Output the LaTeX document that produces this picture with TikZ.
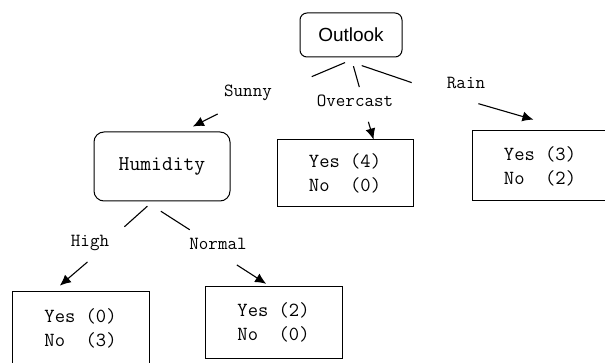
\documentclass[tikz,border=0pt]{standalone}
\usepackage{fontspec}
\newfontfamily\outlookfont{Liberation Sans}
\usetikzlibrary{arrows.meta}

\tikzstyle{decision}=[rectangle,
    rounded corners=8pt,
    line width=1pt,
    draw=black,
    font=\ttfamily\fontsize{21}{25}\selectfont]
\tikzstyle{leaf}=[rectangle,
    line width=1pt,
    draw=black,
    minimum width=136pt,
    align=left,
    font=\ttfamily\fontsize{20}{24}\selectfont]
\tikzstyle{branch}=[inner sep=1pt,
    text height=12pt,
    text depth=4pt,
    font=\ttfamily\fontsize{18.5}{22}\selectfont]
\tikzstyle{edge}=[line width=1.1pt]
\tikzstyle{pointer}=[line width=1.1pt,-{Latex[length=11pt,width=10pt]}]

\begin{document}
\begin{tikzpicture}[x=1pt,y=-1pt]
    \useasboundingbox (0,0) rectangle (605,363);
    % decision nodes and leaves
    \node (outlook) [decision, minimum width=102pt, minimum height=44pt,
        rounded corners=7pt, font=\outlookfont\fontsize{19}{22}\selectfont] at (351,35) {Outlook};
    \node (humidity) [decision, minimum width=136pt, minimum height=69pt,
        rounded corners=10pt] at (162,166.5) {Humidity};
    \node (leafover) [leaf, minimum height=67pt] at (345,173.5) {Yes (4)\\No~~(0)};
    \node (leafrain) [leaf, minimum height=70pt] at (540,166) {Yes (3)\\No~~(2)};
    \node (leafhigh) [leaf, minimum width=137pt, minimum height=72pt] at (80.5,328) {Yes (0)\\No~~(3)};
    \node (leafnormal) [leaf, minimum width=137pt, minimum height=71pt] at (273.5,322.5) {Yes (2)\\No~~(0)};
    % branch labels
    \node (sunny) [branch] at (248,93) {Sunny};
    \node (overcast) [branch] at (355,103) {Overcast};
    \node (rain) [branch] at (466,85) {Rain};
    \node (high) [branch] at (90,243) {High};
    \node (normal) [branch] at (218,246) {Normal};

    \draw [edge, shorten <=13pt, shorten >=42pt] (outlook.285) -- (sunny.east);
    \draw [edge, shorten <=9pt, shorten >=7pt] (outlook.south) -- (overcast.56);
    \draw [edge, shorten <=25pt, shorten >=36pt] (outlook.240) -- (rain.south west);
    \draw [pointer, shorten <=26pt, shorten >=11pt] (sunny.232) -- (humidity.59);
    \draw [pointer, shorten <=10pt] (overcast.319) -- (leafover.50);
    \draw [pointer, shorten <=34pt, shorten >=39pt] (rain.south west) -- (leafrain.49);
    \draw [edge, shorten <=7pt, shorten >=19pt] (humidity.255) -- (high.10);
    \draw [edge, shorten <=18pt, shorten >=13pt] (humidity.245) -- (normal.152);
    \draw [pointer, shorten <=15pt, shorten >=9pt] (high.314) -- (leafhigh.127);
    \draw [pointer, shorten <=18pt, shorten >=5pt] (normal.292) -- (leafnormal.95);
\end{tikzpicture}
\end{document}
